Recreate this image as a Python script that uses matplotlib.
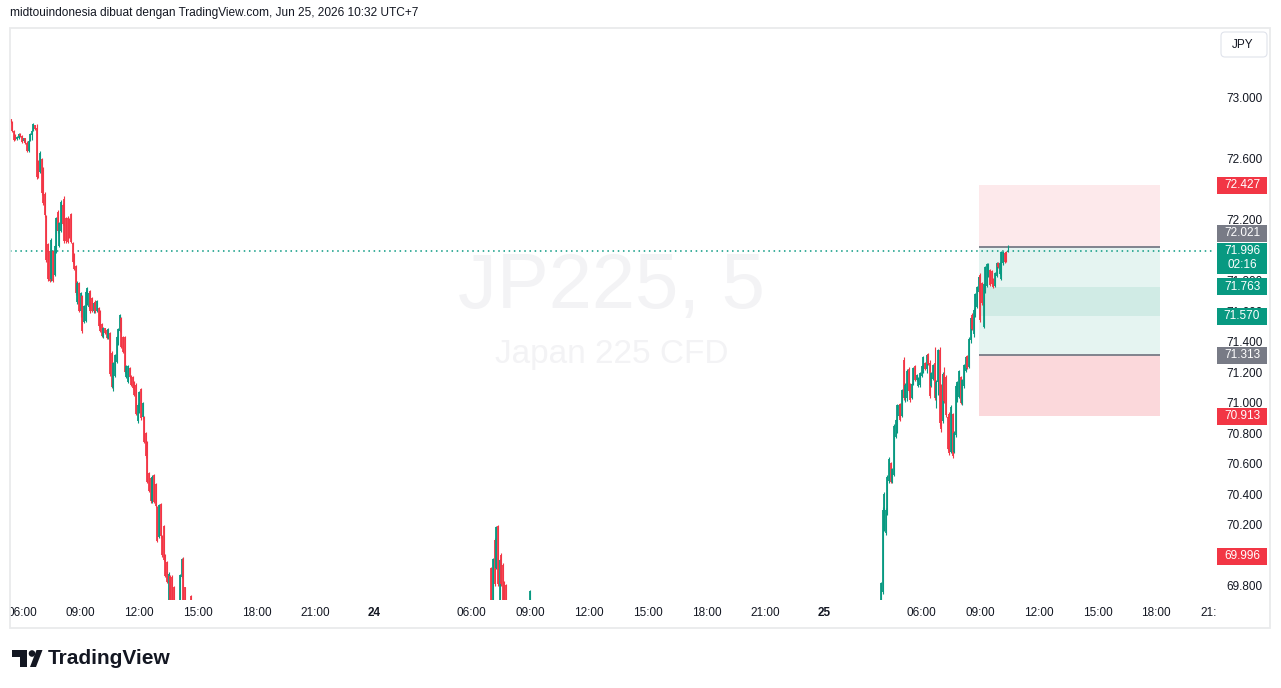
# JP225 5m candles, TradingView style snapshot
import numpy as np
import matplotlib
matplotlib.use("Agg")
import matplotlib.pyplot as plt
import matplotlib.transforms as mtransforms
from matplotlib.patches import Rectangle, Circle, Polygon, FancyBboxPatch

nan = np.nan

title = "midtouindonesia dibuat dengan TradingView.com, Jun 25, 2026 10:32 UTC+7"
symbol = "JP225, 5"
symbol_desc = "Japan 225 CFD"
currency = "JPY"

# bar index 0 = Jun 23 06:00 (5 minute bars, closed hours are skipped)
time_ticks = [0, 36, 72, 108, 144, 180, 216, 276, 312, 348, 384, 420, 456, 492,
              552, 588, 624, 660, 696, 732]
time_labels = ["06:00", "09:00", "12:00", "15:00", "18:00", "21:00", "24",
               "06:00", "09:00", "12:00", "15:00", "18:00", "21:00", "25",
               "06:00", "09:00", "12:00", "15:00", "18:00", "21:00"]
price_ticks = [73.0, 72.6, 72.2, 71.8, 71.6, 71.4, 71.2, 71.0, 70.8, 70.6, 70.4, 70.2, 69.8]

# session 1 (Jun 23)
seg1_start = -7
seg1_open = [72.860, 72.840, 72.785, 72.760, 72.730, 72.740, 72.765, 72.750, 72.715, 72.735,
             72.705, 72.655, 72.720, 72.760, 72.785, 72.820, 72.800, 72.585, 72.515, 72.600,
             72.540, 72.370, 72.225, 72.040, 71.995, 71.810, 71.995, 71.840, 72.000, 72.250,
             72.030, 72.130, 72.300, 72.340, 72.210, 72.215, 72.205, 72.240, 72.050, 71.975,
             71.895, 71.660, 71.785, 71.600, 71.700, 71.530, 71.540, 71.650, 71.630, 71.735,
             71.690, 71.600, 71.665, 71.605, 71.625, 71.600, 71.515, 71.435, 71.490, 71.480,
             71.425, 71.460, 71.330, 71.100, 71.180, 71.270, 71.390, 71.475, 71.555, 71.430,
             71.430, 71.170, 71.140, 71.230, 71.180, 71.170, 71.140, 71.120, 70.880, 70.990,
             71.090, 70.905, 70.905, 70.800, 70.745, 70.540, 70.505, 70.355, 70.525, 70.470,
             70.315, 70.120, 70.335, 70.125, 70.190, 70.000, 69.960, 69.660, 69.865, 69.860,
             69.790, nan, nan, nan, 69.660, 69.860, 69.980, 69.790, nan, nan,
             nan, 69.735]
seg1_high = [72.863, 72.849, 72.790, 72.764, 72.751, 72.771, 72.771, 72.758, 72.738, 72.738,
             72.718, 72.725, 72.771, 72.790, 72.836, 72.823, 72.830, 72.593, 72.652, 72.606,
             72.548, 72.384, 72.233, 72.049, 72.003, 72.082, 72.003, 72.036, 72.220, 72.266,
             72.187, 72.331, 72.311, 72.357, 72.220, 72.226, 72.213, 72.246, 72.056, 71.984,
             71.905, 71.800, 71.794, 71.728, 71.708, 71.643, 71.741, 71.761, 71.728, 71.741,
             71.695, 71.662, 71.675, 71.675, 71.630, 71.610, 71.525, 71.498, 71.492, 71.485,
             71.492, 71.466, 71.341, 71.269, 71.321, 71.439, 71.492, 71.584, 71.564, 71.439,
             71.439, 71.249, 71.249, 71.236, 71.184, 71.177, 71.144, 71.131, 71.000, 71.079,
             71.098, 71.007, 70.915, 70.810, 70.751, 70.548, 70.515, 70.528, 70.535, 70.476,
             70.325, 70.338, 70.344, 70.135, 70.200, 70.010, 69.964, 69.892, 69.872, 69.872,
             69.800, nan, nan, nan, 69.879, 69.983, 69.990, 69.794, nan, nan,
             nan, 69.741]
seg1_low = [72.836, 72.777, 72.718, 72.725, 72.725, 72.731, 72.744, 72.705, 72.712, 72.699,
            72.646, 72.646, 72.718, 72.725, 72.784, 72.790, 72.469, 72.475, 72.508, 72.364,
            72.298, 72.220, 71.925, 71.800, 71.794, 71.800, 71.794, 71.833, 71.984, 72.115,
            72.023, 72.121, 72.167, 72.049, 72.049, 72.049, 72.082, 72.049, 71.918, 71.872,
            71.708, 71.649, 71.597, 71.564, 71.459, 71.525, 71.531, 71.643, 71.623, 71.590,
            71.597, 71.590, 71.590, 71.597, 71.498, 71.466, 71.433, 71.426, 71.453, 71.420,
            71.420, 71.177, 71.098, 71.079, 71.170, 71.262, 71.380, 71.466, 71.361, 71.328,
            71.197, 71.164, 71.131, 71.164, 71.111, 71.092, 71.046, 70.921, 70.869, 70.935,
            70.889, 70.895, 70.738, 70.639, 70.476, 70.417, 70.344, 70.344, 70.344, 70.318,
            70.089, 70.115, 70.115, 69.990, 69.964, 69.859, 69.820, 69.650, 69.640, 69.630,
            69.620, nan, nan, nan, 69.650, 69.852, 69.680, 69.650, nan, nan,
            nan, 69.600]
seg1_close = [72.840, 72.785, 72.725, 72.730, 72.745, 72.765, 72.748, 72.712, 72.735, 72.703,
              72.655, 72.718, 72.765, 72.785, 72.830, 72.795, 72.480, 72.485, 72.640, 72.380,
              72.310, 72.230, 71.935, 71.810, 71.800, 72.070, 71.800, 72.030, 72.210, 72.130,
              72.180, 72.320, 72.175, 72.060, 72.060, 72.055, 72.090, 72.055, 71.925, 71.880,
              71.720, 71.790, 71.605, 71.720, 71.470, 71.635, 71.730, 71.755, 71.720, 71.600,
              71.605, 71.655, 71.600, 71.670, 71.505, 71.475, 71.440, 71.490, 71.458, 71.425,
              71.488, 71.190, 71.105, 71.260, 71.315, 71.430, 71.485, 71.575, 71.370, 71.335,
              71.205, 71.245, 71.240, 71.170, 71.120, 71.100, 71.055, 70.930, 70.990, 71.070,
              70.900, 71.000, 70.745, 70.650, 70.485, 70.425, 70.355, 70.515, 70.350, 70.325,
              70.095, 70.330, 70.125, 70.000, 69.970, 69.865, 69.825, 69.880, 69.660, 69.650,
              69.640, nan, nan, nan, 69.870, 69.975, 69.700, 69.670, nan, nan,
              nan, 69.620]

# session 2 (Jun 24), only the bars that reach into view
seg2_start = 288
seg2_open = [69.915, 69.690, 70.100, 69.920, 70.190, 69.700, 70.005, 69.940, 69.825, 69.805] + [nan] * 14 + [69.660]
seg2_high = [69.925, 69.983, 70.115, 70.193, 70.200, 69.977, 70.016, 69.951, 69.833, 69.813] + [nan] * 14 + [69.774]
seg2_low = [69.650, 69.660, 69.800, 69.912, 69.800, 69.680, 69.800, 69.680, 69.650, 69.650] + [nan] * 14 + [69.650]
seg2_close = [69.680, 69.975, 69.810, 70.185, 69.810, 69.970, 69.810, 69.700, 69.670, 69.670] + [nan] * 14 + [69.770]

# session 3 (Jun 25)
seg3_start = 527
seg3_open = [69.660, 69.760, 70.170, 70.150, 70.280, 70.490, 70.605, 70.485, 70.530, 70.780,
             70.810, 70.915, 70.995, 70.915, 71.280, 71.030, 71.030, 71.225, 71.120, 71.035,
             71.125, 71.240, 71.150, 71.110, 71.115, 71.180, 71.205, 71.265, 71.220, 71.320,
             71.260, 71.110, 71.160, 71.260, 71.030, 71.140, 71.345, 71.110, 70.880, 71.190,
             71.170, 70.910, 70.930, 70.680, 70.925, 70.680, 70.790, 71.015, 71.040, 71.170,
             71.000, 71.110, 71.210, 71.305, 71.235, 71.410, 71.580, 71.450, 71.575, 71.630,
             71.730, 71.840, 71.785, 71.500, 71.735, 71.770, 71.835, 71.870, 71.865, 71.815,
             71.765, 71.835, 71.920, 71.845, 71.815, 71.915, 71.985, 71.990, 71.992]
seg3_high = [69.827, 70.318, 70.417, 70.311, 70.528, 70.646, 70.613, 70.574, 70.862, 70.895,
             70.993, 70.993, 71.000, 71.092, 71.302, 71.131, 71.223, 71.236, 71.131, 71.131,
             71.236, 71.249, 71.190, 71.170, 71.203, 71.249, 71.308, 71.269, 71.321, 71.328,
             71.282, 71.203, 71.256, 71.367, 71.151, 71.354, 71.367, 71.125, 71.203, 71.236,
             71.184, 70.915, 70.941, 70.987, 70.935, 70.816, 71.125, 71.144, 71.216, 71.177,
             71.157, 71.256, 71.308, 71.315, 71.433, 71.564, 71.590, 71.623, 71.721, 71.767,
             71.833, 71.853, 71.794, 71.787, 71.899, 71.918, 71.918, 71.879, 71.872, 71.820,
             71.859, 71.925, 71.925, 71.925, 71.997, 71.997, 71.990, 71.997, 72.036]
seg3_low = [69.650, 69.748, 70.161, 70.135, 70.266, 70.476, 70.476, 70.476, 70.521, 70.770,
            70.803, 70.908, 70.882, 70.908, 71.020, 71.007, 71.013, 71.072, 71.007, 71.026,
            71.118, 71.144, 71.144, 71.105, 71.105, 71.170, 71.197, 71.216, 71.197, 71.249,
            71.033, 71.105, 71.151, 71.020, 70.967, 71.052, 70.849, 70.810, 70.869, 71.000,
            70.908, 70.692, 70.659, 70.672, 70.639, 70.672, 70.777, 71.007, 71.033, 70.993,
            70.987, 71.098, 71.203, 71.223, 71.229, 71.393, 71.479, 71.433, 71.564, 71.623,
            71.721, 71.531, 71.643, 71.492, 71.721, 71.761, 71.826, 71.767, 71.774, 71.754,
            71.761, 71.826, 71.885, 71.839, 71.807, 71.905, 71.918, 71.925, 71.990]
seg3_close = [69.820, 70.300, 70.400, 70.300, 70.515, 70.635, 70.485, 70.565, 70.850, 70.890,
              70.985, 70.990, 70.890, 71.085, 71.030, 71.120, 71.210, 71.080, 71.020, 71.125,
              71.230, 71.150, 71.185, 71.165, 71.195, 71.245, 71.300, 71.220, 71.315, 71.255,
              71.045, 71.195, 71.250, 71.030, 71.140, 71.345, 70.870, 70.830, 71.190, 71.010,
              70.920, 70.700, 70.670, 70.975, 70.650, 70.805, 71.110, 71.135, 71.210, 71.000,
              71.150, 71.250, 71.300, 71.230, 71.420, 71.555, 71.485, 71.610, 71.715, 71.760,
              71.825, 71.545, 71.655, 71.780, 71.890, 71.910, 71.912, 71.775, 71.780, 71.760,
              71.850, 71.920, 71.890, 71.920, 71.990, 71.990, 71.925, 71.930, 71.996]

last_price = 71.996
bar_timer = "02:16"
day_low_line = 69.996

# position tool levels
pos_start, pos_end = 587.5, 698.5
pos_upper_stop = 72.427
pos_upper_entry = 72.021
pos_band_top = 71.763
pos_band_bottom = 71.570
pos_lower_entry = 71.313
pos_lower_stop = 70.913

UP = "#089981"
DN = "#f23645"
GRAY = "#787b86"
TXT = "#131722"

plt.rcParams['font.family'] = ['Liberation Sans', 'DejaVu Sans']

W, H = 1281, 688
fig = plt.figure(figsize=(W / 100, H / 100), dpi=100, facecolor="white")
pix = mtransforms.Affine2D().scale(1 / fig.dpi) + fig.dpi_scale_trans


def fx(px):
    return px / W


def fy(py):
    return 1 - py / H


ax = fig.add_axes([fx(10), fy(600), fx(1215) - fx(10), fy(28) - fy(600)])
ax.set_xlim(-7.36, 731.5)
ax.set_ylim(69.708, 73.459)
for s in ax.spines.values():
    s.set_visible(False)

# watermark
ax.text(612, H - 288, symbol, transform=pix, ha="center", va="center",
        fontsize=56, color="#f3f3f5", zorder=0.5)
ax.text(612, H - 355, symbol_desc, transform=pix, ha="center", va="center",
        fontsize=24, color="#f3f3f5", zorder=0.5)

# candles
segments = [(seg1_start, seg1_open, seg1_high, seg1_low, seg1_close),
            (seg2_start, seg2_open, seg2_high, seg2_low, seg2_close),
            (seg3_start, seg3_open, seg3_high, seg3_low, seg3_close)]
for start, o, h, l, c in segments:
    o, h, l, c = (np.array(v, dtype=float) for v in (o, h, l, c))
    x = start + np.arange(len(o))
    ok = ~np.isnan(o)
    cols = np.where(c >= o, UP, DN)
    ax.vlines(x[ok], l[ok], h[ok], colors=cols[ok], lw=0.8, zorder=3)
    ax.vlines(x[ok], np.minimum(o, c)[ok], np.maximum(o, c)[ok], colors=cols[ok], lw=1.3, zorder=3)

# position tool
ax.add_patch(Rectangle((pos_start, pos_upper_entry), pos_end - pos_start, pos_upper_stop - pos_upper_entry,
                       facecolor="#fde9eb", lw=0, zorder=1))
ax.add_patch(Rectangle((pos_start, pos_lower_entry), pos_end - pos_start, pos_upper_entry - pos_lower_entry,
                       facecolor="#e5f4f1", lw=0, zorder=1))
ax.add_patch(Rectangle((pos_start, pos_band_bottom), pos_end - pos_start, pos_band_top - pos_band_bottom,
                       facecolor="#d0ebe5", lw=0, zorder=1.1))
ax.add_patch(Rectangle((pos_start, pos_lower_stop), pos_end - pos_start, pos_lower_entry - pos_lower_stop,
                       facecolor="#fbd8db", lw=0, zorder=1))
ax.hlines([pos_upper_entry, pos_lower_entry], pos_start, pos_end, colors=GRAY, lw=1.3, zorder=2)

# current price line
ax.axhline(last_price, color=UP, lw=1.1, ls=(0, (1, 2.4)), zorder=2.5)

# axes ticks
ax.set_xticks(time_ticks, time_labels)
ax.tick_params(axis="x", length=0, pad=5, labelsize=8.5, labelcolor=TXT)
for lbl in ax.get_xticklabels():
    if lbl.get_text() in ("24", "25"):
        lbl.set_fontweight("bold")
ax.yaxis.tick_right()
ax.set_yticks(price_ticks, [f"{v:.3f}" for v in price_ticks])
ax.tick_params(axis="y", length=0, pad=8.5, labelsize=8.5, labelcolor=TXT)

# price tags on the scale
tag_tr = mtransforms.blended_transform_factory(fig.transFigure, ax.transData)
y0, y1 = ax.get_ylim()
upp = (y1 - y0) / (ax.get_position().height * H)


def price_tag(price, color, text, shift_px=0, extra_px=0):
    yc = price + shift_px * upp
    top = yc + 8.5 * upp
    bottom = yc - (8.5 + extra_px) * upp
    ax.add_patch(Rectangle((fx(1217), bottom), fx(50), top - bottom, transform=tag_tr,
                           facecolor=color, lw=0, clip_on=False, zorder=4))
    ax.text(fx(1242), yc, text, transform=tag_tr, ha="center", va="center", color="white",
            fontsize=8.5, clip_on=False, zorder=5)
    return yc


price_tag(pos_upper_stop, DN, f"{pos_upper_stop:.3f}")
price_tag(pos_upper_entry, GRAY, f"{pos_upper_entry:.3f}", shift_px=14)
yc = price_tag(last_price, UP, f"{last_price:.3f}", extra_px=14)
ax.text(fx(1242), yc - 14 * upp, bar_timer, transform=tag_tr, ha="center", va="center",
        color="white", fontsize=8.5, clip_on=False, zorder=5)
price_tag(pos_band_top, UP, f"{pos_band_top:.3f}")
price_tag(pos_band_bottom, UP, f"{pos_band_bottom:.3f}")
price_tag(pos_lower_entry, GRAY, f"{pos_lower_entry:.3f}")
price_tag(pos_lower_stop, DN, f"{pos_lower_stop:.3f}")
price_tag(day_low_line, DN, f"{day_low_line:.3f}")

# masks for cut time labels, then the frame
fig.add_artist(Rectangle((0, H - 628), 9.5, 28, transform=pix, facecolor="white", lw=0, zorder=5))
fig.add_artist(Rectangle((1215.5, H - 627), 54, 26, transform=pix, facecolor="white", lw=0, zorder=5))
fig.add_artist(Rectangle((10, H - 628), 1260, 600, transform=pix, fill=False,
                         edgecolor="#e9eaec", lw=1.3, zorder=10))

# currency button
fig.add_artist(FancyBboxPatch((1221, H - 57), 46, 25, boxstyle="round,pad=0,rounding_size=4",
                              transform=pix, facecolor="white", edgecolor="#e0e3eb", lw=0.8, zorder=11))
fig.text(1243 / W, fy(45), currency, ha="center", va="center", fontsize=8.5, color=TXT, zorder=12)

# header
fig.text(fx(10), fy(13), title, ha="left", va="center", fontsize=8.6, color=TXT)

# TradingView logo
fig.add_artist(Polygon([(12, H - 650), (27, H - 650), (27, H - 667), (20, H - 667), (20, H - 657), (12, H - 657)],
                       closed=True, transform=pix, facecolor=TXT, lw=0))
fig.add_artist(Circle((32, H - 653.5), 3.3, transform=pix, facecolor=TXT, lw=0))
fig.add_artist(Polygon([(36.5, H - 650), (42.5, H - 650), (36, H - 667), (30, H - 667)],
                       closed=True, transform=pix, facecolor=TXT, lw=0))
fig.text(fx(48), fy(658.5), "TradingView", ha="left", va="center", fontsize=15,
         fontweight="bold", color=TXT)

fig.savefig("out.png", dpi=100, facecolor="white")
